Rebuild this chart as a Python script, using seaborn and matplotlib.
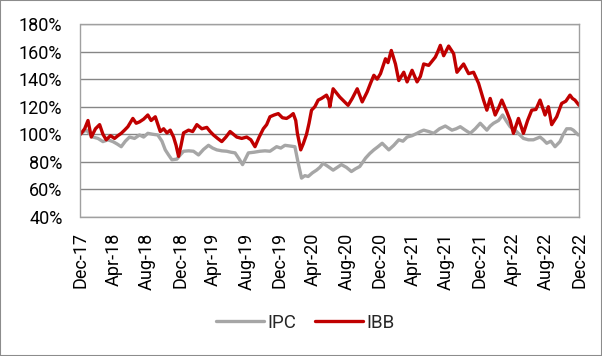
import pandas as pd
import numpy as np
import seaborn as sns
import matplotlib.pyplot as plt
from matplotlib.patches import Rectangle

# months since 1 Dec 2017 and index level (%)
ibb_m = [0, 0.5, 0.9, 1.3, 1.8, 2.3, 2.7, 3.1, 3.6, 4.1, 4.5, 4.9, 5.3, 5.7, 6.3, 6.7, 7.1, 7.6, 8.1, 8.5,
         9.0, 9.6, 10.0, 10.4, 10.8, 11.2, 11.5, 11.8, 12.1, 12.4, 13.0, 13.5, 14.0, 14.6, 15.2, 15.6, 16.0,
         16.5, 17.0, 17.5, 18.0, 18.4, 18.8, 19.4, 20.0, 20.5, 21.0, 21.5, 22.0, 22.4, 22.8, 23.3, 23.8,
         24.3, 24.8, 25.2, 25.6, 25.9, 26.1, 26.5, 26.8, 27.2, 27.5, 27.8, 28.2, 28.6, 29.0, 29.6, 29.9,
         30.0, 30.4, 30.8, 31.2, 31.7, 32.2, 32.7, 33.3, 33.9, 34.5, 34.9, 35.3, 35.7, 36.1, 36.7, 37.0,
         37.4, 37.9, 38.3, 38.9, 39.3, 39.9, 40.5, 40.9, 41.3, 41.9, 42.3, 42.7, 43.0, 43.3, 43.7, 44.3,
         44.9, 45.3, 45.7, 46.1, 46.7, 47.3, 47.9, 48.5, 48.9, 49.3, 49.9, 50.3, 50.7, 51.3, 51.7, 52.1,
         52.7, 53.3, 53.8, 54.3, 54.8, 55.3, 55.9, 56.3, 56.7, 57.3, 57.9, 58.4, 58.9, 59.2, 59.5, 60.0]
ibb_v = [100, 104, 110, 98, 104, 107, 100, 96, 99, 97, 99, 100.7, 103, 105.5, 111.5, 108, 109, 111, 114, 110,
         112.7, 102, 104, 101, 103, 98, 92, 84, 92, 101, 103, 102, 107, 104, 105, 102, 99.5,
         97, 94.7, 98, 102, 100, 98, 97, 98, 96, 91, 98, 104, 107, 112.7, 114, 115,
         112, 111.5, 113, 115, 110, 100.7, 88.7, 93, 100, 108, 117.5, 120, 124.8, 126, 128.4, 124.8,
         120, 133, 130, 127, 124, 121, 126, 133, 123.5, 130.8, 137, 142.8, 140, 144, 154.8, 152,
         160.8, 151, 139, 145, 138, 146.4, 138, 142, 151, 150, 153, 156, 160, 164.5, 157, 164,
         158.5, 145, 148, 151, 144, 145, 137, 124.8, 117.5, 126, 114, 119, 124.8, 116.3, 110, 100.7,
         111.5, 100.7, 110, 117.5, 118, 124.8, 114, 120, 107, 112.7, 122.4, 124, 128.4, 126, 124.8, 121]

ipc_m = [0, 0.7, 1.5, 2.1, 2.7, 3.3, 3.9, 4.4, 4.9, 5.4, 5.9, 6.5, 7.1, 7.6, 8.1, 8.7, 9.3, 9.8, 10.2, 10.6,
         11.0, 11.6, 12.0, 12.4, 13.0, 13.6, 14.2, 14.8, 15.4, 15.9, 16.4, 17.0, 17.6, 18.1, 18.6, 19.1,
         19.5, 20.2, 20.9, 21.6, 22.2, 22.8, 23.6, 24.1, 24.6, 25.2, 25.8, 26.2, 26.6, 27.0, 27.4, 27.9,
         28.4, 28.8, 29.2, 29.8, 30.4, 30.9, 31.4, 32.0, 32.6, 33.1, 33.6, 34.3, 34.8, 35.3, 35.8, 36.3,
         37.1, 37.7, 38.3, 38.8, 39.3, 39.9, 40.5, 40.9, 41.3, 41.9, 42.5, 43.2, 43.9, 44.7, 45.2, 45.7,
         46.3, 46.9, 47.5, 48.1, 48.9, 49.3, 49.7, 50.3, 50.8, 51.2, 51.7, 52.3, 52.8, 53.3, 53.9, 54.5,
         55.3, 55.7, 56.1, 56.6, 57.1, 57.7, 58.1, 58.5, 59.0, 59.3, 59.9]
ipc_v = [100.7, 103, 98, 97, 94.7, 96, 94.7, 93, 91, 95, 98, 97, 99.5, 98, 100.7, 100, 99.5, 95, 88.7, 85,
         81.5, 82, 85, 87.7, 88, 87.7, 85, 89, 92, 90, 88.7, 88, 87.7, 87, 86.5, 82,
         78, 86.5, 87, 87.7, 88, 87.7, 91, 90, 92, 91.5, 91, 79, 68.2, 70, 69.4, 72,
         74, 76, 79, 76.6, 74, 76, 78, 76, 73, 75, 76.6, 82.7, 86, 88.7, 91, 93.5,
         88.7, 92, 96, 95, 98, 99, 100.7, 102, 103, 102, 100.7, 104, 106, 103, 104, 105.5,
         103, 100.7, 104, 108, 103, 106, 108, 110, 114, 110, 105.5, 103, 100, 97, 96, 96,
         98, 96, 93.5, 95, 91, 94.7, 100, 104, 104, 103, 99.5]

xtick_labels = ['Dec-17', 'Apr-18', 'Aug-18', 'Dec-18', 'Apr-19', 'Aug-19', 'Dec-19', 'Apr-20',
                'Aug-20', 'Dec-20', 'Apr-21', 'Aug-21', 'Dec-21', 'Apr-22', 'Aug-22', 'Dec-22']
ytick_vals = [40, 60, 80, 100, 120, 140, 160, 180]
series = ['IPC', 'IBB']
colors = {'IPC': '#A6A6A6', 'IBB': '#C00000'}

start = pd.Timestamp('2017-12-01')
def to_dates(m):
    return start + pd.to_timedelta(np.array(m) * 30.44, unit='D')

df = pd.concat([
    pd.DataFrame({'date': to_dates(ipc_m), 'value': ipc_v, 'series': 'IPC'}),
    pd.DataFrame({'date': to_dates(ibb_m), 'value': ibb_v, 'series': 'IBB'}),
])

sns.set_style('white')
plt.rcParams['font.family'] = ['Roboto', 'DejaVu Sans']

fig = plt.figure(figsize=(6.02, 3.56), dpi=100)
ax = fig.add_axes([80.5 / 602, 1 - 217 / 356, (579 - 80.5) / 602, (217 - 24) / 356])

sns.lineplot(data=df, x='date', y='value', hue='series', hue_order=series, palette=colors,
             estimator=None, linewidth=2.4, ax=ax)

ax.set_ylim(40, 180)
ax.set_yticks(ytick_vals)
ax.set_yticklabels([str(v) + '%' for v in ytick_vals])
ax.set_xlim(start, pd.Timestamp('2022-12-01'))
ax.set_xticks(pd.date_range('2017-12-01', '2022-12-01', freq='4MS'))
ax.set_xticklabels(xtick_labels, rotation=90)
ax.tick_params(axis='both', length=0, labelsize=13, colors='black')
ax.tick_params(axis='x', pad=11)
ax.tick_params(axis='y', pad=13)
ax.set_xlabel('')
ax.set_ylabel('')
ax.yaxis.grid(True, color='#868686', linewidth=1)
ax.set_axisbelow(True)
for s in ax.spines.values():
    s.set_color('#A0A0A0')
    s.set_linewidth(1)

h, l = ax.get_legend_handles_labels()
ax.legend(h, l, loc='center', bbox_to_anchor=(305 / 602, 33 / 356), bbox_transform=fig.transFigure,
          ncol=2, frameon=False, handlelength=2.6, handletextpad=0.15, columnspacing=1.0, fontsize=13.5)

fig.patches.append(Rectangle((0, 0), 1, 1, transform=fig.transFigure, fill=False,
                             edgecolor='#8C8C8C', linewidth=1.5))
plt.savefig('out.png', dpi=100)
